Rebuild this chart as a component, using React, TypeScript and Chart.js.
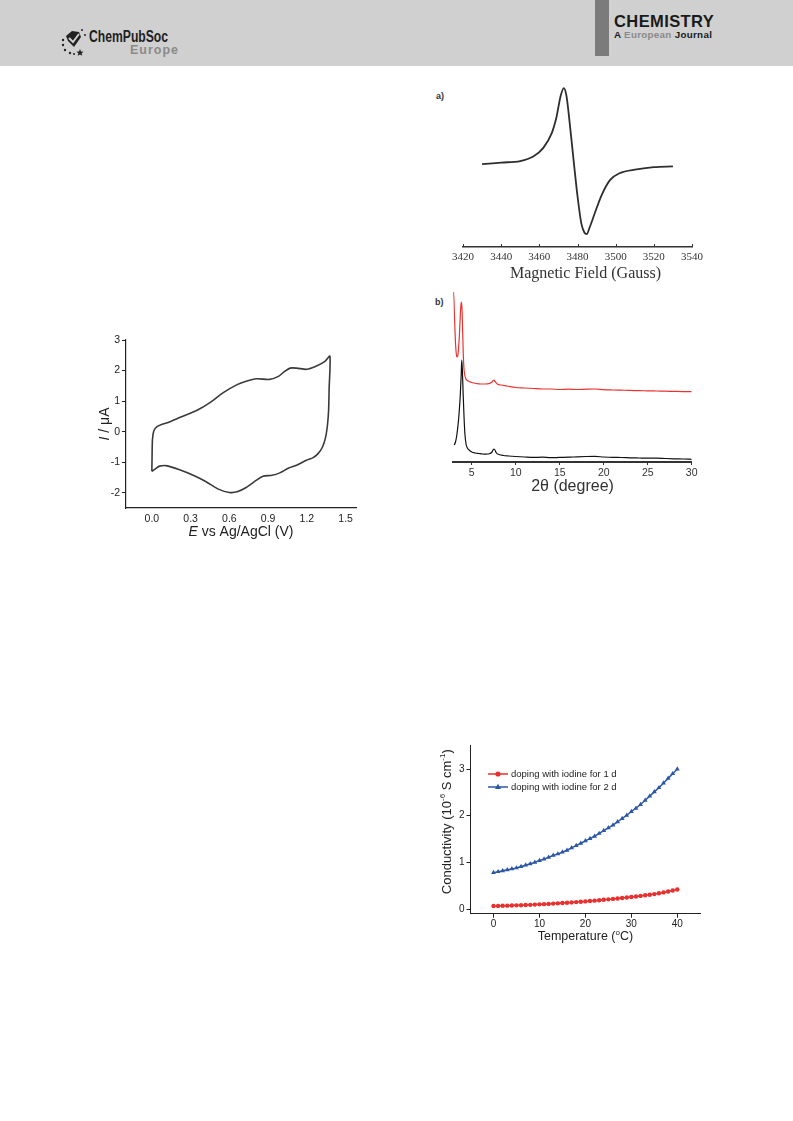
import React, { useEffect, useRef } from "react";
import { Chart, registerables } from "chart.js";

Chart.register(...registerables);

const SANS = '"Liberation Sans", Arial, Helvetica, sans-serif';
const SERIF = '"Liberation Serif", "Times New Roman", serif';

// ---------- Cyclic voltammogram ----------
const CV_POTENTIAL = [
  0.0, 0.002, 0.005, 0.015, 0.04, 0.08, 0.12, 0.23, 0.35, 0.45, 0.55, 0.66, 0.73, 0.81, 0.91, 0.98, 1.03, 1.07,
  1.12, 1.2, 1.27, 1.34, 1.378, 1.372, 1.368, 1.36, 1.345, 1.32, 1.286, 1.248, 1.196, 1.12, 1.06, 0.99, 0.93,
  0.86, 0.81, 0.73, 0.66, 0.6, 0.52, 0.42, 0.32, 0.22, 0.12, 0.06, 0.03, 0.0,
];
const CV_CURRENT = [
  -1.3, -0.75, -0.25, 0.02, 0.16, 0.24, 0.29, 0.49, 0.7, 0.95, 1.27, 1.54, 1.65, 1.73, 1.71, 1.81, 1.98, 2.08,
  2.08, 2.04, 2.14, 2.3, 2.47, 1.4, 0.7, 0.25, -0.18, -0.51, -0.72, -0.85, -0.94, -1.1, -1.19, -1.35, -1.43,
  -1.46, -1.59, -1.83, -1.97, -1.99, -1.89, -1.64, -1.43, -1.26, -1.12, -1.13, -1.21, -1.3,
];
const CV_X_TICKS = [0, 0.3, 0.6, 0.9, 1.2, 1.5];
const CV_Y_TICKS = [-2, -1, 0, 1, 2, 3];

// ---------- EPR ----------
const EPR_FIELD = [
  3430, 3440, 3450, 3456.8, 3462, 3466.4, 3469, 3471.1, 3472.8, 3474.2, 3476, 3478, 3480, 3482, 3483.6, 3484.8,
  3486.4, 3489, 3492.6, 3497, 3502, 3511, 3520, 3530,
];
const EPR_SIGNAL = [
  0.0, 0.02, 0.04, 0.1, 0.21, 0.4, 0.62, 0.89, 1.0, 0.9, 0.52, 0.04, -0.42, -0.78, -0.9, -0.92, -0.83, -0.65,
  -0.41, -0.21, -0.12, -0.07, -0.04, -0.03,
];
const EPR_TICKS = [3420, 3440, 3460, 3480, 3500, 3520, 3540];

// ---------- PXRD ----------
const XRD_BLACK_ANGLE = [
  3.0, 3.15, 3.3, 3.45, 3.57, 3.7, 3.8, 3.86, 3.93, 4.02, 4.12, 4.22, 4.35, 4.5, 4.7, 5.0, 5.4, 5.8, 6.2, 6.6, 7.0,
  7.3, 7.5, 7.6, 7.8, 8.1, 8.6, 9.2, 10, 11, 12, 13, 14, 15, 16, 17, 18, 19, 20, 21, 22, 23, 24, 25, 26, 27, 28,
  29, 30,
];
const XRD_BLACK_INTENSITY = [
  17, 20, 27, 38, 50, 68, 88, 102, 92, 68, 45, 28, 18, 14, 12, 10, 9, 8.5, 8, 7.8, 8.2, 10, 13, 12.5, 9, 7.5, 6.5,
  6, 5.5, 5, 4.6, 4.8, 4.3, 4.6, 4.8, 5.2, 5.5, 5.6, 5.0, 4.6, 4.5, 4.2, 4.0, 3.8, 3.9, 3.5, 3.2, 3.0, 2.7,
];
const XRD_RED_ANGLE = [
  2.92, 2.98, 3.05, 3.12, 3.2, 3.3, 3.4, 3.5, 3.6, 3.7, 3.78, 3.82, 3.88, 3.95, 4.02, 4.1, 4.2, 4.35, 4.6, 5.0,
  5.5, 6.0, 6.5, 7.0, 7.3, 7.5, 7.65, 7.9, 8.3, 9, 10, 11, 12, 13, 14, 15, 16, 17, 18, 19, 20, 21, 22, 23, 24, 25,
  26, 27, 28, 29, 30,
];
const XRD_RED_INTENSITY = [
  170, 160, 142, 125, 112, 105, 106, 114, 128, 148, 158, 160, 155, 135, 112, 95, 87, 83, 81, 79.5, 78.5, 78, 78,
  78.5, 80, 82, 80.5, 78, 77, 76, 74.5, 74, 73.5, 73, 73, 72.5, 72.8, 72.5, 72.8, 73, 72.3, 72, 71.8, 71.6, 71.3,
  71.2, 71, 70.8, 70.6, 70.4, 70.3,
];
const XRD_TICKS = [5, 10, 15, 20, 25, 30];

// ---------- Conductivity ----------
const TEMPERATURE = [
  0, 1, 2, 3, 4, 5, 6, 7, 8, 9, 10, 11, 12, 13, 14, 15, 16, 17, 18, 19, 20, 21, 22, 23, 24, 25, 26, 27, 28, 29, 30,
  31, 32, 33, 34, 35, 36, 37, 38, 39, 40,
];
const COND_1D = [
  0.064, 0.067, 0.07, 0.073, 0.076, 0.079, 0.082, 0.086, 0.09, 0.095, 0.1, 0.105, 0.11, 0.116, 0.122, 0.128, 0.135,
  0.142, 0.149, 0.156, 0.164, 0.172, 0.18, 0.189, 0.198, 0.207, 0.217, 0.227, 0.237, 0.247, 0.257, 0.269, 0.281,
  0.294, 0.307, 0.32, 0.338, 0.356, 0.376, 0.398, 0.42,
];
const COND_2D = [
  0.78, 0.8, 0.82, 0.84, 0.86, 0.88, 0.91, 0.94, 0.97, 1.0, 1.04, 1.07, 1.11, 1.15, 1.18, 1.22, 1.26, 1.31, 1.36,
  1.41, 1.46, 1.51, 1.56, 1.62, 1.68, 1.74, 1.8, 1.87, 1.94, 2.01, 2.09, 2.16, 2.24, 2.33, 2.42, 2.51, 2.6, 2.7,
  2.8, 2.9, 3.0,
];
const COND_LABELS = ["doping with iodine for 1 d", "doping with iodine for 2 d"];
const COND_X_TICKS = [0, 10, 20, 30, 40];
const COND_Y_TICKS = [0, 1, 2, 3];

// ---------- plugins (options passed by closure) ----------
type Seg = { text: string; italic?: boolean; sup?: boolean };
type TitleItem = {
  scale: string;
  segments: Seg[];
  size: number;
  family: string;
  color: string;
  offset: number;
  shift: number;
};

function makeRichTitles(items: TitleItem[]) {
  return {
    id: "richTitles",
    afterDraw(chart: any) {
      const ctx = chart.ctx;
      items.forEach((it) => {
        const sc = chart.scales[it.scale];
        if (!sc) return;
        ctx.save();
        ctx.fillStyle = it.color;
        ctx.textBaseline = "alphabetic";
        ctx.textAlign = "left";
        const fontOf = (s: Seg) =>
          `${s.italic ? "italic " : ""}${s.sup ? Math.round(it.size * 0.62) : it.size}px ${it.family}`;
        const widths = it.segments.map((s) => {
          ctx.font = fontOf(s);
          return ctx.measureText(s.text).width;
        });
        const total = widths.reduce((a, b) => a + b, 0);
        if (sc.isHorizontal()) {
          ctx.translate((sc.left + sc.right) / 2 + it.shift, sc.bottom - it.offset);
        } else {
          ctx.translate(sc.left + it.offset, (sc.top + sc.bottom) / 2 + it.shift);
          ctx.rotate(-Math.PI / 2);
        }
        let x = -total / 2;
        const base = it.size * 0.36;
        it.segments.forEach((s, i) => {
          ctx.font = fontOf(s);
          ctx.fillText(s.text, x, base + (s.sup ? -it.size * 0.4 : 0));
          x += widths[i];
        });
        ctx.restore();
      });
    },
  };
}

function makeLineLegend(o: { dx: number; dy: number; gap: number; lineLen: number; size: number }) {
  return {
    id: "lineLegend",
    afterDraw(chart: any) {
      const { ctx, chartArea } = chart;
      chart.data.datasets.forEach((ds: any, i: number) => {
        const y = chartArea.top + o.dy + i * o.gap;
        const x0 = chartArea.left + o.dx;
        ctx.save();
        ctx.strokeStyle = ds.borderColor;
        ctx.lineWidth = ds.borderWidth;
        ctx.beginPath();
        ctx.moveTo(x0, y);
        ctx.lineTo(x0 + o.lineLen, y);
        ctx.stroke();
        const cx = x0 + o.lineLen / 2;
        const r = ds.pointRadius + 0.4;
        ctx.fillStyle = ds.pointBackgroundColor;
        ctx.beginPath();
        if (ds.pointStyle === "triangle") {
          ctx.moveTo(cx, y - r);
          ctx.lineTo(cx + r * 0.95, y + r * 0.6);
          ctx.lineTo(cx - r * 0.95, y + r * 0.6);
          ctx.closePath();
        } else {
          ctx.arc(cx, y, r, 0, Math.PI * 2);
        }
        ctx.fill();
        ctx.fillStyle = "#222";
        ctx.font = `${o.size}px ${SANS}`;
        ctx.textBaseline = "middle";
        ctx.textAlign = "left";
        ctx.fillText(ds.label, x0 + o.lineLen + 3, y);
        ctx.restore();
      });
    },
  };
}

const pts = (xs: number[], ys: number[]) => xs.map((x, i) => ({ x, y: ys[i] }));

const baseOpts = (padding: any) => ({
  animation: false as const,
  responsive: false,
  events: [] as any[],
  layout: { padding, autoPadding: false },
});

function fixTicks(values: number[]) {
  return (s: any) => {
    s.ticks = values.map((v) => ({ value: v }));
  };
}

// ---------- configs ----------
function cvConfig(): any {
  return {
    type: "scatter",
    data: {
      datasets: [
        {
          data: pts(CV_POTENTIAL, CV_CURRENT),
          showLine: true,
          borderColor: "#3a3a3a",
          borderWidth: 1.6,
          pointRadius: 0,
          tension: 0.25,
          fill: false,
        },
      ],
    },
    options: {
      ...baseOpts({ top: 10, right: 4, left: 0, bottom: 0 }),
      plugins: { legend: { display: false }, tooltip: { enabled: false } },
      scales: {
        x: {
          type: "linear",
          min: -0.2,
          max: 1.58,
          afterBuildTicks: fixTicks(CV_X_TICKS),
          afterFit: (s: any) => {
            s.height = 42;
            s.paddingLeft = 0;
            s.paddingRight = 0;
          },
          ticks: {
            autoSkip: false,
            maxRotation: 0,
            padding: 5,
            color: "#222",
            font: { family: SANS, size: 10.5 },
            callback: (v: any) => Number(v).toFixed(1),
          },
          grid: { drawOnChartArea: false, drawTicks: false, color: "#222" },
          border: { color: "#222", width: 1.2 },
        },
        y: {
          type: "linear",
          min: -2.5,
          max: 3,
          afterBuildTicks: fixTicks(CV_Y_TICKS),
          afterFit: (s: any) => {
            s.width = 36;
            s.paddingTop = 0;
            s.paddingBottom = 0;
          },
          ticks: {
            autoSkip: false,
            padding: 2,
            color: "#222",
            font: { family: SANS, size: 10.5 },
            callback: (v: any) => String(v),
          },
          grid: { drawOnChartArea: false, tickLength: 4, color: "#222" },
          border: { color: "#222", width: 1.2 },
        },
      },
    },
    plugins: [
      makeRichTitles([
        {
          scale: "x",
          segments: [{ text: "E", italic: true }, { text: " vs Ag/AgCl (V)" }],
          size: 14,
          family: SANS,
          color: "#222",
          offset: 19,
          shift: 0,
        },
        {
          scale: "y",
          segments: [{ text: "I", italic: true }, { text: " / μA" }],
          size: 14,
          family: SANS,
          color: "#222",
          offset: 14,
          shift: 0,
        },
      ]),
    ],
  };
}

function eprConfig(): any {
  return {
    type: "scatter",
    data: {
      datasets: [
        {
          data: pts(EPR_FIELD, EPR_SIGNAL),
          showLine: true,
          borderColor: "#2e2e2e",
          borderWidth: 1.8,
          pointRadius: 0,
          cubicInterpolationMode: "monotone",
          fill: false,
        },
      ],
    },
    options: {
      ...baseOpts({ top: 5, right: 18, left: 23, bottom: 0 }),
      plugins: { legend: { display: false }, tooltip: { enabled: false } },
      scales: {
        x: {
          type: "linear",
          min: 3420,
          max: 3540,
          afterBuildTicks: fixTicks(EPR_TICKS),
          afterFit: (s: any) => {
            s.height = 43;
            s.paddingLeft = 0;
            s.paddingRight = 0;
          },
          ticks: {
            autoSkip: false,
            maxRotation: 0,
            padding: 4,
            color: "#333",
            font: { family: SERIF, size: 11 },
            callback: (v: any) => String(v),
          },
          grid: { drawOnChartArea: true, drawTicks: false, color: "transparent" },
          border: { color: "#333", width: 1.5 },
        },
        y: { type: "linear", display: false, min: -1.09, max: 1.04 },
      },
    },
    plugins: [
      {
        id: "eprUpTicks",
        afterDraw(chart: any) {
          const { ctx } = chart;
          const sx = chart.scales.x;
          ctx.save();
          ctx.strokeStyle = "#333";
          ctx.lineWidth = 1;
          sx.ticks.forEach((t: any) => {
            const px = Math.round(sx.getPixelForValue(t.value)) + 0.5;
            ctx.beginPath();
            ctx.moveTo(px, sx.top);
            ctx.lineTo(px, sx.top - 3);
            ctx.stroke();
          });
          ctx.restore();
        },
      },
      makeRichTitles([
        {
          scale: "x",
          segments: [{ text: "Magnetic Field (Gauss)" }],
          size: 16,
          family: SERIF,
          color: "#333",
          offset: 18,
          shift: 8,
        },
      ]),
    ],
  };
}

function xrdConfig(): any {
  return {
    type: "scatter",
    data: {
      datasets: [
        {
          data: pts(XRD_RED_ANGLE, XRD_RED_INTENSITY),
          showLine: true,
          borderColor: "#e8332f",
          borderWidth: 1.2,
          pointRadius: 0,
          cubicInterpolationMode: "monotone",
        },
        {
          data: pts(XRD_BLACK_ANGLE, XRD_BLACK_INTENSITY),
          showLine: true,
          borderColor: "#111",
          borderWidth: 1.2,
          pointRadius: 0,
          cubicInterpolationMode: "monotone",
        },
      ],
    },
    options: {
      ...baseOpts({ top: 5, right: 18.3, left: 13.3, bottom: 0 }),
      plugins: { legend: { display: false }, tooltip: { enabled: false } },
      scales: {
        x: {
          type: "linear",
          min: 2.9,
          max: 30,
          afterBuildTicks: fixTicks(XRD_TICKS),
          afterFit: (s: any) => {
            s.height = 43;
            s.paddingLeft = 0;
            s.paddingRight = 0;
          },
          ticks: {
            autoSkip: false,
            maxRotation: 0,
            padding: 2,
            color: "#333",
            font: { family: SANS, size: 10.5 },
            callback: (v: any) => String(v),
          },
          grid: { drawOnChartArea: false, tickLength: 3, color: "#333" },
          border: { color: "#333", width: 2 },
          title: {
            display: true,
            text: "2θ (degree)",
            color: "#333",
            font: { family: SANS, size: 16 },
            padding: { top: 0, bottom: 9 },
          },
        },
        y: { type: "linear", display: false, min: 0, max: 172 },
      },
    },
  };
}

function condConfig(): any {
  return {
    type: "scatter",
    data: {
      datasets: [
        {
          label: COND_LABELS[0],
          data: pts(TEMPERATURE, COND_1D),
          showLine: true,
          borderColor: "#e8312f",
          borderWidth: 1.5,
          pointStyle: "circle",
          pointRadius: 2.2,
          pointBorderWidth: 0,
          pointBackgroundColor: "#e8312f",
        },
        {
          label: COND_LABELS[1],
          data: pts(TEMPERATURE, COND_2D),
          showLine: true,
          borderColor: "#2c57a6",
          borderWidth: 1.5,
          pointStyle: "triangle",
          pointRadius: 2.8,
          pointBorderWidth: 0,
          pointBackgroundColor: "#2c57a6",
        },
      ],
    },
    options: {
      ...baseOpts({ top: 10.7, right: 9.7, left: 0, bottom: 0 }),
      plugins: { legend: { display: false }, tooltip: { enabled: false } },
      scales: {
        x: {
          type: "linear",
          min: -5,
          max: 45,
          afterBuildTicks: fixTicks(COND_X_TICKS),
          afterFit: (s: any) => {
            s.height = 36.3;
            s.paddingLeft = 0;
            s.paddingRight = 0;
          },
          ticks: {
            autoSkip: false,
            maxRotation: 0,
            padding: 1,
            color: "#222",
            font: { family: SANS, size: 10 },
            callback: (v: any) => String(v),
          },
          grid: { drawOnChartArea: false, tickLength: 4, color: "#222" },
          border: { color: "#222", width: 1 },
        },
        y: {
          type: "linear",
          min: -0.1,
          max: 3.5,
          afterBuildTicks: fixTicks(COND_Y_TICKS),
          afterFit: (s: any) => {
            s.width = 45.5;
            s.paddingTop = 0;
            s.paddingBottom = 0;
          },
          ticks: {
            autoSkip: false,
            padding: 2,
            color: "#222",
            font: { family: SANS, size: 10 },
            callback: (v: any) => String(v),
          },
          grid: { drawOnChartArea: false, tickLength: 4, color: "#222" },
          border: { color: "#222", width: 1 },
        },
      },
    },
    plugins: [
      makeRichTitles([
        {
          scale: "x",
          segments: [{ text: "Temperature (" }, { text: "o", sup: true }, { text: "C)" }],
          size: 12.5,
          family: SANS,
          color: "#222",
          offset: 14.5,
          shift: 0,
        },
        {
          scale: "y",
          segments: [
            { text: "Conductivity (10" },
            { text: "-6", sup: true },
            { text: " S cm" },
            { text: "-1", sup: true },
            { text: ")" },
          ],
          size: 13,
          family: SANS,
          color: "#222",
          offset: 21,
          shift: -8,
        },
      ]),
      makeLineLegend({ dx: 17.5, dy: 28.3, gap: 13, lineLen: 20, size: 9.5 }),
    ],
  };
}

function ChartBox(props: { left: number; top: number; width: number; height: number; make: () => any }) {
  const ref = useRef<HTMLCanvasElement | null>(null);
  useEffect(() => {
    const chart = new Chart(ref.current as HTMLCanvasElement, props.make());
    return () => chart.destroy();
  }, []);
  return (
    <canvas
      ref={ref}
      width={props.width}
      height={props.height}
      style={{ position: "absolute", left: props.left, top: props.top, width: props.width, height: props.height }}
    />
  );
}

function Logo() {
  return (
    <svg width="27" height="29" viewBox="0 0 27 29" style={{ position: "absolute", left: 60, top: 27 }}>
      <path d="M6 9 L12 4 L19 5 L21 10 L14 20 L8 14 Z" fill="#222" />
      <path d="M9 11 L13 15 L19 7" stroke="#d0d0d0" strokeWidth="2" fill="none" />
      <circle cx="3" cy="13" r="1.2" fill="#222" />
      <circle cx="3" cy="18" r="1.2" fill="#222" />
      <circle cx="5" cy="23" r="1.2" fill="#222" />
      <circle cx="10" cy="26" r="1.2" fill="#222" />
      <circle cx="22" cy="3" r="1" fill="#222" />
      <circle cx="25" cy="8" r="1" fill="#222" />
      <path d="M20 22 l1 2.5 l2.6 0.2 l-2 1.6 l0.7 2.5 l-2.3 -1.4 l-2.3 1.4 l0.7 -2.5 l-2 -1.6 l2.6 -0.2 Z" fill="#222" />
      <circle cx="14" cy="27" r="1" fill="#222" />
    </svg>
  );
}

export default function App() {
  return (
    <div
      style={{
        position: "absolute",
        left: 0,
        top: 0,
        width: 793,
        height: 1121,
        background: "#fff",
        overflow: "hidden",
        fontFamily: SANS,
      }}
    >
      <div style={{ position: "absolute", left: 0, top: 0, width: 793, height: 66, background: "#d0d0d0" }} />
      <Logo />
      <div
        style={{
          position: "absolute",
          left: 89,
          top: 29,
          fontSize: 16,
          lineHeight: "16px",
          fontWeight: 700,
          color: "#1e1e1e",
          transform: "scaleX(0.76)",
          transformOrigin: "left top",
          whiteSpace: "nowrap",
        }}
      >
        ChemPubSoc
      </div>
      <div
        style={{
          position: "absolute",
          left: 130,
          top: 43,
          fontSize: 12.5,
          lineHeight: "14px",
          fontWeight: 700,
          color: "#8a8a8a",
          letterSpacing: 1,
          whiteSpace: "nowrap",
        }}
      >
        Europe
      </div>
      <div style={{ position: "absolute", left: 595, top: 0, width: 14, height: 56, background: "#7b7b7b" }} />
      <div
        style={{
          position: "absolute",
          left: 614,
          top: 12,
          fontSize: 16.5,
          lineHeight: "18px",
          fontWeight: 700,
          color: "#1a1a1a",
          letterSpacing: 0.4,
          whiteSpace: "nowrap",
        }}
      >
        CHEMISTRY
      </div>
      <div
        style={{
          position: "absolute",
          left: 614,
          top: 29,
          fontSize: 9.8,
          lineHeight: "12px",
          fontWeight: 700,
          color: "#1a1a1a",
          letterSpacing: 0.3,
          whiteSpace: "nowrap",
        }}
      >
        A <span style={{ color: "#8a8a8a" }}>European</span> Journal
      </div>

      <ChartBox left={90} top={330} width={270} height={220} make={cvConfig} />

      <div
        style={{
          position: "absolute",
          left: 436,
          top: 91,
          fontSize: 9,
          lineHeight: "10px",
          fontWeight: 700,
          color: "#333",
        }}
      >
        a)
      </div>
      <ChartBox left={440} top={80} width={270} height={210} make={eprConfig} />

      <div
        style={{
          position: "absolute",
          left: 435,
          top: 297,
          fontSize: 9,
          lineHeight: "10px",
          fontWeight: 700,
          color: "#333",
        }}
      >
        b)
      </div>
      <ChartBox left={440} top={285} width={270} height={220} make={xrdConfig} />

      <ChartBox left={425} top={735} width={285} height={215} make={condConfig} />
    </div>
  );
}
